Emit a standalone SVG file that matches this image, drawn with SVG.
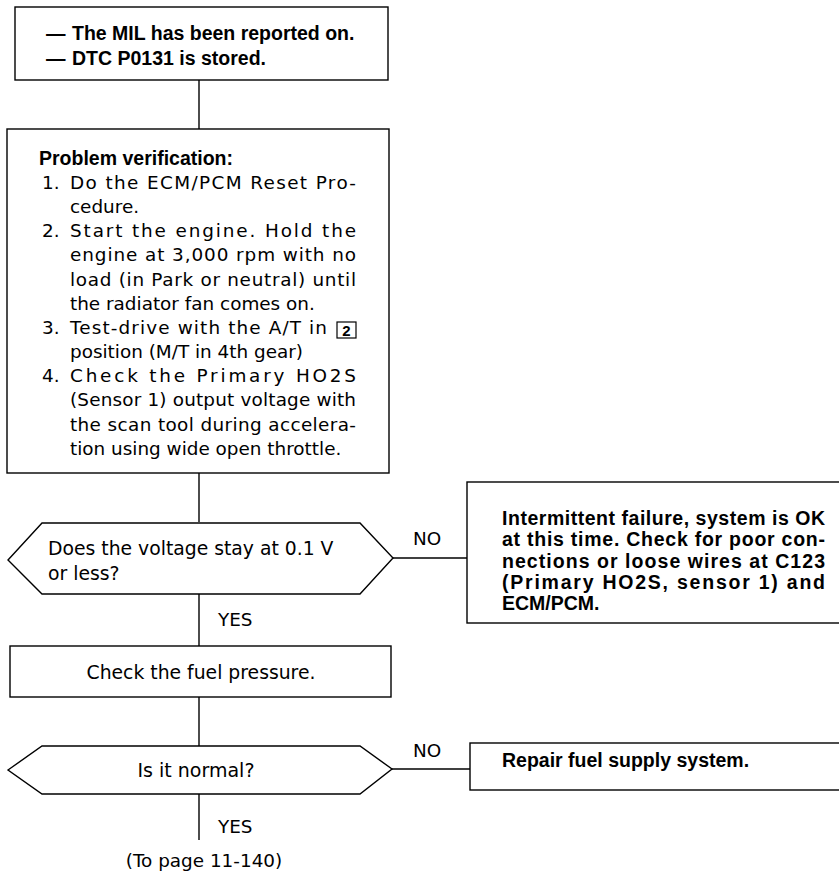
<svg xmlns="http://www.w3.org/2000/svg" width="839" height="874" viewBox="0 0 839 874">
<style>
.box{fill:#fff;stroke:#000;stroke-width:1.4}
.ln{fill:none;stroke:#000;stroke-width:1.4}
.r{font-family:"DejaVu Sans","Liberation Sans",sans-serif;font-size:18.4px;fill:#000}
.b{font-family:"Liberation Sans",Arial,sans-serif;font-weight:bold;font-size:19.5px;fill:#000}
</style>
<rect width="839" height="874" fill="#fff"/>
<g id="connectors">
<line class="ln" x1="199" y1="80" x2="199" y2="129"/>
<line class="ln" x1="199" y1="473" x2="199" y2="522"/>
<line class="ln" x1="199" y1="594" x2="199" y2="646"/>
<line class="ln" x1="199" y1="697" x2="199" y2="746"/>
<line class="ln" x1="199" y1="794" x2="199" y2="840"/>
<line class="ln" x1="393" y1="558" x2="467" y2="558"/>
<line class="ln" x1="392" y1="769" x2="470" y2="769"/>
<text class="r" x="413" y="545">NO</text>
<text class="r" x="218" y="626">YES</text>
<text class="r" x="413" y="757">NO</text>
<text class="r" x="218" y="833">YES</text>
</g>
<g id="start">
<rect class="box" x="15" y="7" width="373" height="73"/>
<text class="b" x="46" y="40">—</text>
<text class="b" x="72" y="40">The MIL has been reported on.</text>
<text class="b" x="46" y="65">—</text>
<text class="b" x="72" y="65">DTC P0131 is stored.</text>
</g>
<g id="verify">
<rect class="box" x="7" y="129" width="382" height="344"/>
<text class="b" x="39" y="165">Problem verification:</text>
<text class="r" x="42" y="189">1.</text>
<text class="r" x="70" y="189" textLength="286" lengthAdjust="spacing">Do the ECM/PCM Reset Pro-</text>
<text class="r" x="70" y="213">cedure.</text>
<text class="r" x="42" y="237">2.</text>
<text class="r" x="70" y="237" textLength="286" lengthAdjust="spacing">Start the engine. Hold the</text>
<text class="r" x="70" y="261" textLength="286" lengthAdjust="spacing">engine at 3,000 rpm with no</text>
<text class="r" x="70" y="286" textLength="286" lengthAdjust="spacing">load (in Park or neutral) until</text>
<text class="r" x="70" y="310">the radiator fan comes on.</text>
<text class="r" x="42" y="334">3.</text>
<text class="r" x="70" y="334" textLength="257" lengthAdjust="spacing">Test-drive with the A/T in</text>
<rect x="337" y="322" width="19" height="16" fill="none" stroke="#000" stroke-width="1.2"/>
<text class="b" x="346.5" y="336" text-anchor="middle" style="font-size:15px">2</text>
<text class="r" x="70" y="358">position (M/T in 4th gear)</text>
<text class="r" x="42" y="382">4.</text>
<text class="r" x="70" y="382" textLength="286" lengthAdjust="spacing">Check the Primary HO2S</text>
<text class="r" x="70" y="406" textLength="286" lengthAdjust="spacing">(Sensor 1) output voltage with</text>
<text class="r" x="70" y="431" textLength="286" lengthAdjust="spacing">the scan tool during accelera-</text>
<text class="r" x="70" y="455">tion using wide open throttle.</text>
</g>
<g id="decision1">
<polygon class="box" points="8,560 42,523 360,523 393,558 360,594 42,594"/>
<text class="r" x="48" y="555" style="font-size:18.8px">Does the voltage stay at 0.1 V</text>
<text class="r" x="48" y="580" style="font-size:18.8px">or less?</text>
</g>
<g id="intermittent">
<rect class="box" x="467" y="482" width="400" height="141"/>
<text class="b" x="502" y="525" textLength="323" lengthAdjust="spacing">Intermittent failure, system is OK</text>
<text class="b" x="502" y="546" textLength="323" lengthAdjust="spacing">at this time. Check for poor con-</text>
<text class="b" x="502" y="567.5" textLength="323" lengthAdjust="spacing">nections or loose wires at C123</text>
<text class="b" x="502" y="589" textLength="323" lengthAdjust="spacing">(Primary HO2S, sensor 1) and</text>
<text class="b" x="502" y="610">ECM/PCM.</text>
</g>
<g id="fuelcheck">
<rect class="box" x="10" y="646" width="381" height="51"/>
<text class="r" x="201" y="679" text-anchor="middle" style="font-size:18.8px">Check the fuel pressure.</text>
</g>
<g id="decision2">
<polygon class="box" points="8,770 42,746 360,746 392,769 360,794 42,794"/>
<text class="r" x="196" y="777" text-anchor="middle" style="font-size:19px">Is it normal?</text>
</g>
<g id="repair">
<rect class="box" x="470" y="743" width="400" height="47"/>
<text class="b" x="502" y="767">Repair fuel supply system.</text>
</g>
<g id="topage">
<text class="r" x="204" y="867" text-anchor="middle">(To page 11-140)</text>
</g>
</svg>
